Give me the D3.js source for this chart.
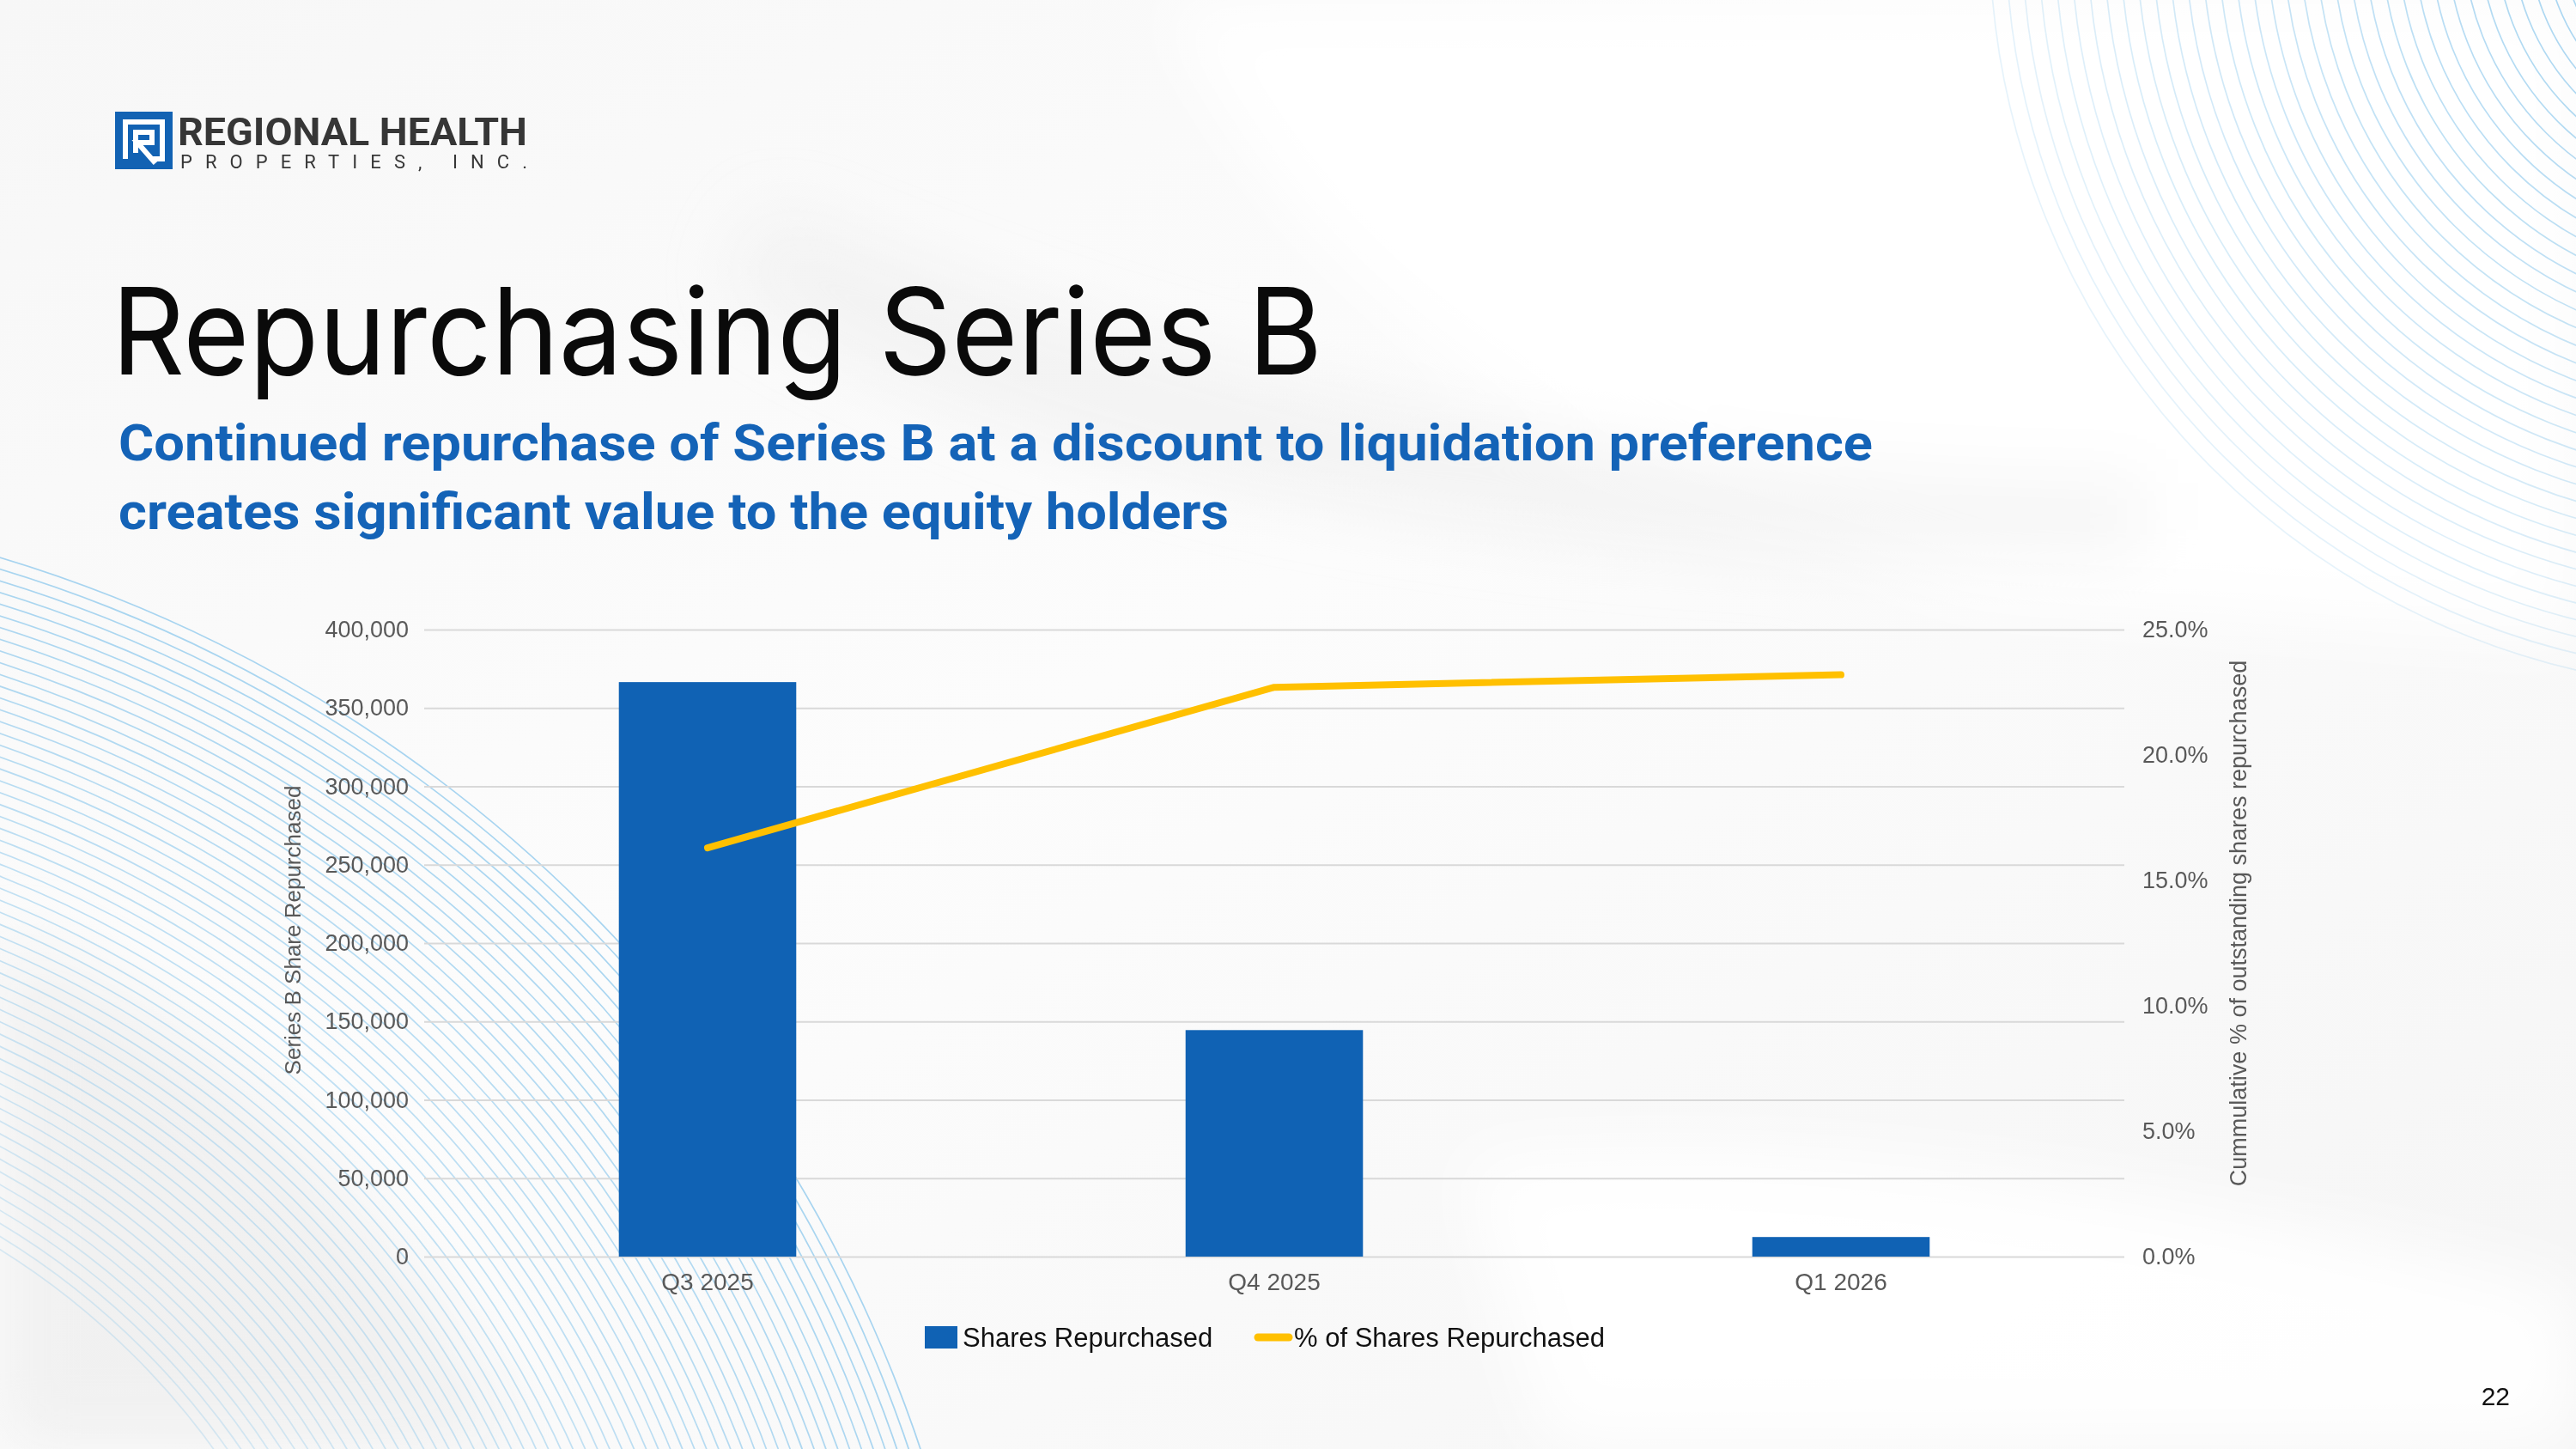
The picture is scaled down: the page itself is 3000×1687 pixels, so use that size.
<!DOCTYPE html>
<html>
<head>
<meta charset="utf-8">
<script src="https://cdn.jsdelivr.net/npm/d3@7"></script>
<style>
  body { margin: 0; background: #fff; }
  svg { display: block; }
</style>
</head>
<body>
<svg id="slide" width="3000" height="1687"></svg>
<script>
// chart data
var quarters = ["Q3 2025", "Q4 2025", "Q1 2026"];
var sharesRepurchased = [366500, 144500, 12500];
var pctRepurchased = [0.163, 0.227, 0.232];
var shareTicks = [0, 50000, 100000, 150000, 200000, 250000, 300000, 350000, 400000];
var pctTicks = [0, 0.05, 0.10, 0.15, 0.20, 0.25];
var legendLabels = ["Shares Repurchased", "% of Shares Repurchased"];

var W = 3000, H = 1687;
var svg = d3.select("#slide");

// plot box
var plotLeft = 494, plotRight = 2474, plotTop = 733, plotBottom = 1463;

var defs = svg.append("defs");
var bgGrad = defs.append("linearGradient").attr("id", "bg")
  .attr("x1", 0).attr("y1", 0).attr("x2", 1).attr("y2", 1);
bgGrad.append("stop").attr("offset", "0%").attr("stop-color", "#f7f7f7");
bgGrad.append("stop").attr("offset", "45%").attr("stop-color", "#fcfcfc");
bgGrad.append("stop").attr("offset", "100%").attr("stop-color", "#f5f5f5");
defs.append("filter").attr("id", "blur")
  .append("feGaussianBlur").attr("stdDeviation", 40);

// background
svg.append("rect").attr("width", W).attr("height", H).attr("fill", "url(#bg)");
var swoosh = svg.append("g").attr("filter", "url(#blur)");
swoosh.append("path")
  .attr("d", "M1350,0 C1500,300 1700,500 2300,700 L3000,750 L3000,0 Z")
  .attr("fill", "#ffffff").attr("opacity", 0.9);
swoosh.append("path")
  .attr("d", "M900,250 C1300,420 1800,560 2500,560 L2500,640 C1800,660 1200,560 850,330 Z")
  .attr("fill", "#ececec").attr("opacity", 0.5);
swoosh.append("path")
  .attr("d", "M0,1100 C300,1200 500,1500 600,1687 L0,1687 Z")
  .attr("fill", "#eeeeee").attr("opacity", 0.8);
swoosh.append("path")
  .attr("d", "M1700,1350 C2100,1300 2600,1400 3000,1500 L3000,1687 L1800,1687 Z")
  .attr("fill", "#ffffff").attr("opacity", 0.9);

// decorative line arcs
var arcs = svg.append("g").attr("fill", "none").attr("stroke", "#8ac7ec").attr("stroke-width", 1.7);
d3.range(880, 1625, 13).forEach(function(r, i, a) {
  arcs.append("circle").attr("cx", -465).attr("cy", 2202).attr("r", r)
    .attr("opacity", 0.3 + 0.45 * (i / a.length));
});
d3.range(180, 900, 19).forEach(function(r, i, a) {
  arcs.append("circle").attr("cx", 3200).attr("cy", -80).attr("r", r)
    .attr("opacity", 0.75 - 0.55 * (i / a.length));
});

// logo
var logo = svg.append("g");
logo.append("rect").attr("x", 134).attr("y", 130).attr("width", 67).attr("height", 67).attr("fill", "#1262b3");
logo.append("path")
  .attr("d", "M146,185 L146,142 L189,142 L189,185 L176,185 M158,178 L158,154 L177,154 L177,166 L160,166 L181,190")
  .attr("fill", "none").attr("stroke", "#fff").attr("stroke-width", 6).attr("stroke-linejoin", "miter");
logo.append("text").attr("x", 207).attr("y", 169)
  .attr("font-family", "Roboto").attr("font-weight", 700).attr("font-size", 45)
  .attr("fill", "#363636").attr("textLength", 407).attr("lengthAdjust", "spacingAndGlyphs")
  .text("REGIONAL HEALTH");
logo.append("text").attr("x", 210).attr("y", 196)
  .attr("font-family", "Roboto").attr("font-size", 22)
  .attr("fill", "#363636").attr("textLength", 404).attr("lengthAdjust", "spacing")
  .text("PROPERTIES, INC.");

// headings
svg.append("text").attr("x", 130).attr("y", 436)
  .attr("font-family", "Inter").attr("font-size", 140).attr("fill", "#0a0a0a")
  .attr("textLength", 1410).attr("lengthAdjust", "spacingAndGlyphs")
  .text("Repurchasing Series B");
svg.append("text").attr("x", 138).attr("y", 536)
  .attr("font-family", "Roboto").attr("font-weight", 700).attr("font-size", 60).attr("fill", "#1463b7")
  .attr("textLength", 2043).attr("lengthAdjust", "spacingAndGlyphs")
  .text("Continued repurchase of Series B at a discount to liquidation preference");
svg.append("text").attr("x", 138).attr("y", 616)
  .attr("font-family", "Roboto").attr("font-weight", 700).attr("font-size", 60).attr("fill", "#1463b7")
  .attr("textLength", 1293).attr("lengthAdjust", "spacingAndGlyphs")
  .text("creates significant value to the equity holders");

// scales
var x = d3.scaleBand().domain(quarters).range([plotLeft, plotRight]).padding(0);
var yL = d3.scaleLinear().domain([0, 400000]).range([plotBottom, plotTop]);
var yR = d3.scaleLinear().domain([0, 0.25]).range([plotBottom, plotTop]);
var barW = x.bandwidth() * 0.313;

var chart = svg.append("g").attr("font-family", "Liberation Sans, Arial, sans-serif");

// gridlines
chart.append("g").attr("transform", "translate(" + plotLeft + ",0)")
  .call(d3.axisLeft(yL).tickValues(shareTicks).tickSize(-(plotRight - plotLeft)).tickFormat(""))
  .call(g => g.select(".domain").remove())
  .call(g => g.selectAll("line").attr("stroke", "#d9d9d9").attr("stroke-width", 2));

// left axis
chart.append("g").attr("transform", "translate(" + plotLeft + ",0)")
  .call(d3.axisLeft(yL).tickValues(shareTicks).tickSize(0).tickPadding(18).tickFormat(d3.format(",")))
  .call(g => g.select(".domain").remove())
  .call(g => g.selectAll("text").attr("font-size", 27).attr("fill", "#595959").attr("font-family", "Liberation Sans"));

// right axis
chart.append("g").attr("transform", "translate(" + plotRight + ",0)")
  .call(d3.axisRight(yR).tickValues(pctTicks).tickSize(0).tickPadding(21).tickFormat(d3.format(".1%")))
  .call(g => g.select(".domain").remove())
  .call(g => g.selectAll("text").attr("font-size", 27).attr("fill", "#595959").attr("font-family", "Liberation Sans"));

// bars
chart.append("g").selectAll("rect")
  .data(quarters).enter().append("rect")
  .attr("x", (d) => x(d) + x.bandwidth() / 2 - barW / 2)
  .attr("width", barW)
  .attr("y", (d, i) => yL(sharesRepurchased[i]))
  .attr("height", (d, i) => plotBottom - yL(sharesRepurchased[i]))
  .attr("fill", "#1062b4");

// bottom axis
chart.append("g").attr("transform", "translate(0," + plotBottom + ")")
  .call(d3.axisBottom(x).tickSize(0).tickPadding(19))
  .call(g => g.select(".domain").remove())
  .call(g => g.selectAll("text").attr("font-size", 28).attr("fill", "#595959").attr("font-family", "Liberation Sans"));

// line
var lineMaker = d3.line()
  .x((d, i) => x(quarters[i]) + x.bandwidth() / 2)
  .y((d) => yR(d));
chart.append("path")
  .attr("d", lineMaker(pctRepurchased))
  .attr("fill", "none").attr("stroke", "#ffc000")
  .attr("stroke-width", 8).attr("stroke-linecap", "round").attr("stroke-linejoin", "round");

// axis titles
chart.append("text").attr("transform", "translate(350,1083) rotate(-90)")
  .attr("text-anchor", "middle").attr("font-size", 26).attr("fill", "#595959")
  .text("Series B Share Repurchased");
chart.append("text").attr("transform", "translate(2616,1075) rotate(-90)")
  .attr("text-anchor", "middle").attr("font-size", 27).attr("fill", "#595959")
  .text("Cummulative % of outstanding shares repurchased");

// legend
var legend = chart.append("g").attr("font-size", 31).attr("fill", "#111");
legend.append("rect").attr("x", 1077).attr("y", 1544).attr("width", 38).attr("height", 26).attr("fill", "#1062b4");
legend.append("text").attr("x", 1121).attr("y", 1568).text(legendLabels[0]);
legend.append("line").attr("x1", 1465).attr("x2", 1501).attr("y1", 1557).attr("y2", 1557)
  .attr("stroke", "#ffc000").attr("stroke-width", 9).attr("stroke-linecap", "round");
legend.append("text").attr("x", 1507).attr("y", 1568).text(legendLabels[1]);

// page number
svg.append("text").attr("x", 2923).attr("y", 1636).attr("text-anchor", "end")
  .attr("font-family", "Liberation Sans").attr("font-size", 30).attr("fill", "#111")
  .text("22");
</script>
</body>
</html>
